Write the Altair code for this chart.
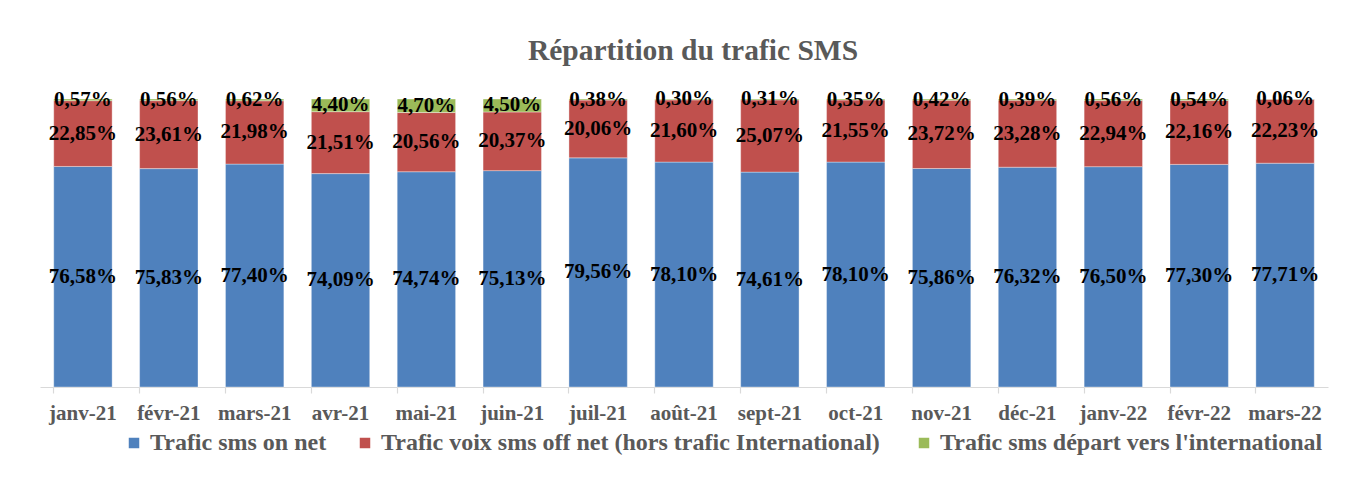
import altair as alt
import pandas as pd

months = ["janv-21", "févr-21", "mars-21", "avr-21", "mai-21", "juin-21", "juil-21",
          "août-21", "sept-21", "oct-21", "nov-21", "déc-21", "janv-22", "févr-22", "mars-22"]
series = ["Trafic sms on net",
          "Trafic voix  sms off net (hors trafic International)",
          "Trafic sms  départ vers l'international"]
on_net = [76.58, 75.83, 77.40, 74.09, 74.74, 75.13, 79.56, 78.10, 74.61, 78.10, 75.86, 76.32, 76.50, 77.30, 77.71]
off_net = [22.85, 23.61, 21.98, 21.51, 20.56, 20.37, 20.06, 21.60, 25.07, 21.55, 23.72, 23.28, 22.94, 22.16, 22.23]
intl = [0.57, 0.56, 0.62, 4.40, 4.70, 4.50, 0.38, 0.30, 0.31, 0.35, 0.42, 0.39, 0.56, 0.54, 0.06]
colors = ["#4F81BD", "#C0504D", "#9BBB59"]

rows = []
for si, vals in enumerate([on_net, off_net, intl]):
    for m, v in zip(months, vals):
        rows.append({"month": m, "series": series[si], "idx": si, "value": v,
                     "label": f"{v:.2f}".replace(".", ",") + "%"})
df = pd.DataFrame(rows)

FONT = "Liberation Serif"
GRAY = "#595959"

base = alt.Chart(df).transform_stack(
    stack="value", groupby=["month"], as_=["v0", "v1"],
    sort=[alt.SortField("idx", order="ascending")]
).transform_calculate(mid="(datum.v0 + datum.v1) / 2")

yscale = alt.Scale(domain=[0, 100], nice=False, zero=True)

bars = base.mark_bar(stroke="#ffffff", strokeWidth=0.6, strokeOpacity=0.6).encode(
    x=alt.X("month:N", sort=months, title=None,
            scale=alt.Scale(paddingInner=0.32, paddingOuter=0.16),
            axis=alt.Axis(labelAngle=0, ticks=False, labelPadding=15, labelFont=FONT,
                          labelFontSize=21, labelFontWeight="bold", labelColor=GRAY,
                          domainColor="#D9D9D9", domainWidth=1.2, orient="bottom")),
    y=alt.Y("v0:Q", scale=yscale, axis=None),
    y2="v1:Q",
    color=alt.Color("series:N", sort=series,
                    scale=alt.Scale(domain=series, range=colors),
                    legend=alt.Legend(title=None, orient="none", legendX=82, legendY=332,
                                      direction="horizontal", columns=3,
                                      symbolType="square", symbolSize=110,
                                      symbolStrokeWidth=0,
                                      labelFont=FONT, labelFontSize=24,
                                      labelFontWeight="bold", labelColor=GRAY,
                                      labelLimit=900, labelOffset=4,
                                      columnPadding=26)),
)

labels = base.mark_text(font=FONT, fontSize=21, fontWeight="bold", color="#000000",
                        baseline="middle", align="center").encode(
    x=alt.X("month:N", sort=months, title=None,
            axis=alt.Axis(labels=False, ticks=True, tickSize=6, tickColor="#D9D9D9",
                          tickWidth=1.2, domain=False, bandPosition=0, orient="bottom")),
    y=alt.Y("mid:Q", scale=yscale, axis=None),
    text="label:N",
)

chart = alt.layer(bars, labels).resolve_axis(x="independent").properties(
    width=1288, height=288,
    autosize=alt.AutoSizeParams(type="none"),
    padding={"left": 32, "top": 91, "right": 20, "bottom": 95},
    title=alt.TitleParams("Répartition du trafic SMS", font=FONT, fontSize=29.5,
                          fontWeight="bold", color=GRAY, anchor="middle", dx=9,
                          offset=22),
).configure_view(stroke=None)

chart.save("out.html", embed_options={"renderer": "svg", "actions": False})
